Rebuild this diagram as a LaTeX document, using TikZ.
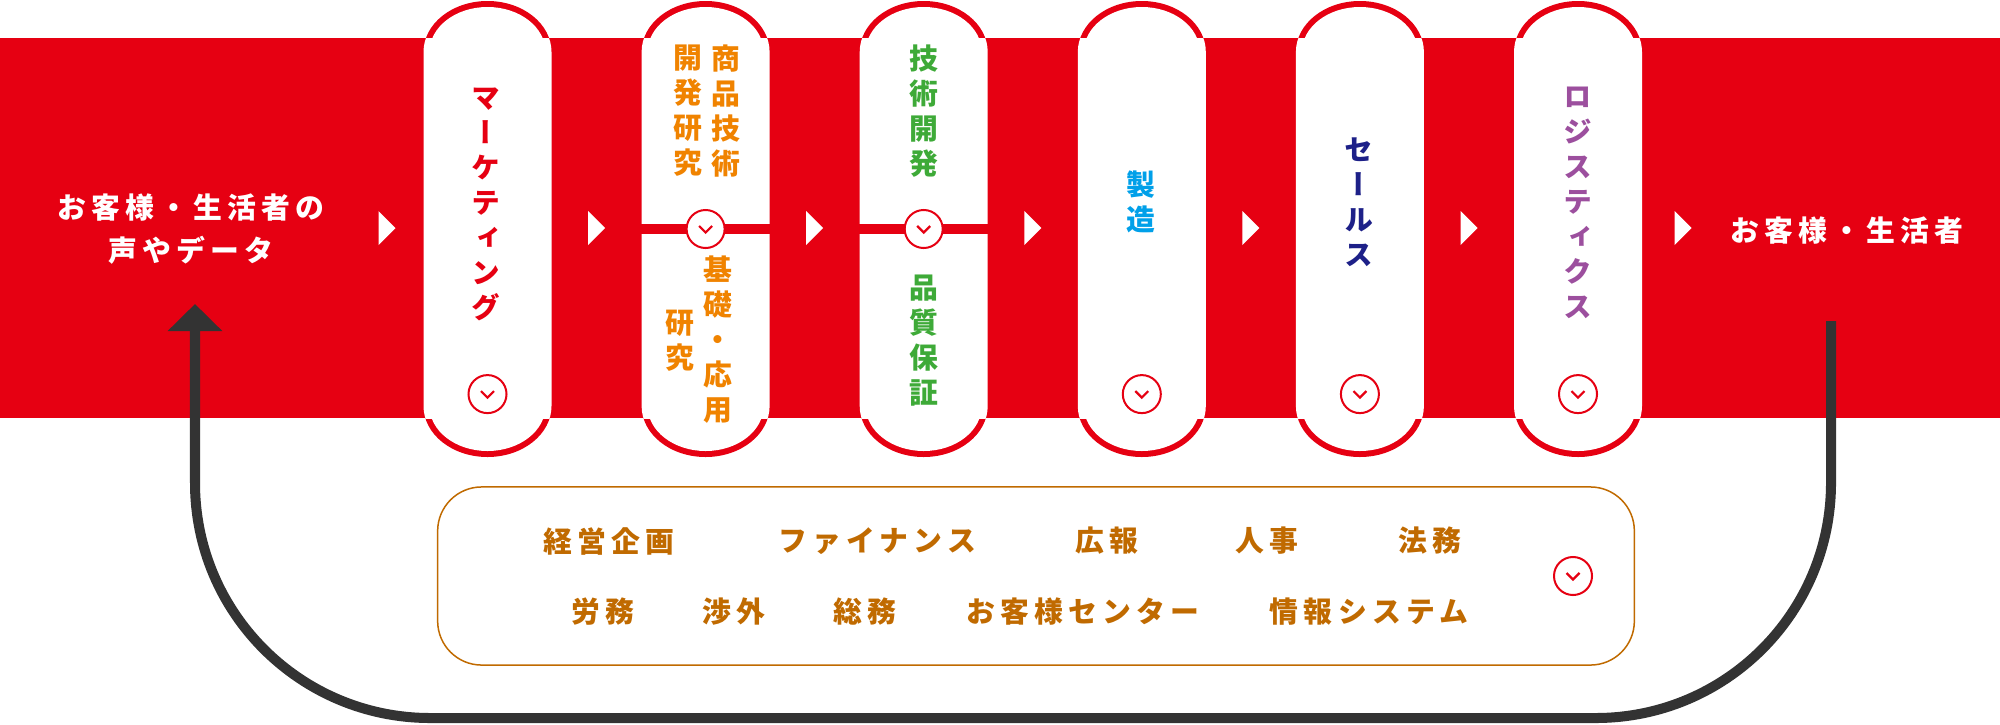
\documentclass[tikz,border=0pt]{standalone}
\usepackage{fontspec}
\usepackage{tikz}
\usetikzlibrary{arrows.meta}
\newfontfamily\cjk{Noto Sans CJK JP}[LetterSpace=18]
\newfontfamily\cjkv{Noto Sans CJK JP}[RawFeature=+vert]
\definecolor{bandred}{HTML}{E60012}
\definecolor{rdorange}{HTML}{F08300}
\definecolor{techgreen}{HTML}{3EAA38}
\definecolor{mfgblue}{HTML}{00A0E9}
\definecolor{salesnavy}{HTML}{1D2088}
\definecolor{logipurple}{HTML}{9C4F9E}
\definecolor{corpbrown}{HTML}{C06A00}
\definecolor{loopgray}{HTML}{333333}
\newcommand{\pillpath}[5]{(#1-#2,#3+#5) arc[start angle=180, end angle=360, x radius=#2, y radius=#5] -- (#1+#2,#4-#5) arc[start angle=0, end angle=180, x radius=#2, y radius=#5] -- cycle}

\begin{document}
\begin{tikzpicture}[x=0.01cm, y=-0.01cm,
    capsule/.style={minimum width=1.28cm, minimum height=4.56cm, inner sep=0pt},
    openmark/.style={circle, draw=bandred, fill=white, line width=0.02cm, minimum size=0.38cm, inner sep=0pt,
        path picture={\draw[bandred, line width=0.022cm] ([xshift=-0.065cm, yshift=0.03cm]path picture bounding box.center) -- ([yshift=-0.035cm]path picture bounding box.center) -- ([xshift=0.065cm, yshift=0.03cm]path picture bounding box.center);}},
    vtext/.style={font={\cjkv\bfseries\fontsize{8.2}{9.95}\selectfont}, align=center, inner sep=0pt},
    htext/.style={font={\cjk\bfseries\fontsize{8.2}{12.2}\selectfont}, align=center, inner sep=0pt},
    stafftext/.style={htext, text=corpbrown}]
    \useasboundingbox (0,0) rectangle (2000,724);
    \fill[bandred] (0,38) rectangle (2000,418);
    \foreach \x in {387, 596.5, 814.7, 1032.8, 1250.9, 1469, 1683}
        \fill[white] (\x-8.5,211) -- (\x+8.5,228) -- (\x-8.5,245) -- cycle;

    \foreach \n/\x in {mkt/487.5, rd/705.6, tech/923.7, mfg/1141.8, sales/1359.9, logi/1578} {
        \fill[bandred] \pillpath{\x}{64}{1}{457}{51};
        \fill[white] \pillpath{\x}{58}{7}{451}{45};
        \begin{scope}
            \clip (0,38) rectangle (2000,418);
            \fill[white] \pillpath{\x}{64}{1}{457}{51};
        \end{scope}
        \node[capsule] (\n) at (\x,229) {};
    }
    \draw[bandred, line width=0.1cm] (rd.west) -- (rd.east);
    \draw[bandred, line width=0.1cm] (tech.west) -- (tech.east);
    \node[openmark] (rd-more) at (rd.center) {};
    \node[openmark] (tech-more) at (tech.center) {};
    \foreach \n in {mkt, mfg, sales, logi}
        \node[openmark] (\n-more) at ([yshift=-1.65cm]\n.center) {};

    \node[htext, text=white] (voice) at (191,229.5) {お客様・生活者の\\声やデータ};
    \node[htext, text=white] (users) at (1847,231) {お客様・生活者};
    \node[vtext, text=bandred] (mkt-label) at (486,204) {マ\\ー\\ケ\\テ\\ィ\\ン\\グ};
    \node[vtext, text=rdorange] (rd-prod) at (726,111) {商\\品\\技\\術};
    \node[vtext, text=rdorange] (rd-dev) at (688,111) {開\\発\\研\\究};
    \node[vtext, text=rdorange] (rd-basic) at (718,340) {基\\礎\\・\\応\\用};
    \node[vtext, text=rdorange] (rd-res) at (680,341) {研\\究};
    \node[vtext, text=techgreen] (tech-dev) at (924,111) {技\\術\\開\\発};
    \node[vtext, text=techgreen] (tech-qa) at (924,341) {品\\質\\保\\証};
    \node[vtext, text=mfgblue] (mfg-label) at (1141,202) {製\\造};
    \node[vtext, text=salesnavy] (sales-label) at (1359,202) {セ\\ー\\ル\\ス};
    \node[vtext, text=logipurple] (logi-label) at (1578,203) {ロ\\ジ\\ス\\テ\\ィ\\ク\\ス};

    \node[draw=corpbrown, line width=0.015cm, rounded corners=0.44cm, minimum width=11.96cm, minimum height=1.78cm] (staff) at (1036,576) {};
    \node[openmark] (staff-more) at (1573,576) {};
    \node[stafftext] (plan) at (609,541) {経営企画};
    \node[stafftext] (finance) at (877,541) {ファイナンス};
    \node[stafftext] (pr) at (1107,541) {広報};
    \node[stafftext] (hr) at (1267,541) {人事};
    \node[stafftext] (legal) at (1430,541) {法務};
    \node[stafftext] (labor) at (603,612) {労務};
    \node[stafftext] (extaff) at (734,612) {渉外};
    \node[stafftext] (general) at (865,612) {総務};
    \node[stafftext] (custctr) at (1083,612) {お客様センター};
    \node[stafftext] (infosys) at (1369,612) {情報システム};

    \coordinate (loop-start) at (1831,321);
    \coordinate (loop-end) at (195,304);
    \coordinate (loop-low) at (0,718);
    \draw[loopgray, line width=0.1cm, rounded corners=2.35cm, -{Triangle[width=0.53cm, length=0.27cm]}] (loop-start) -- (loop-start |- loop-low) -- (loop-end |- loop-low) -- (loop-end);
\end{tikzpicture}
\end{document}
